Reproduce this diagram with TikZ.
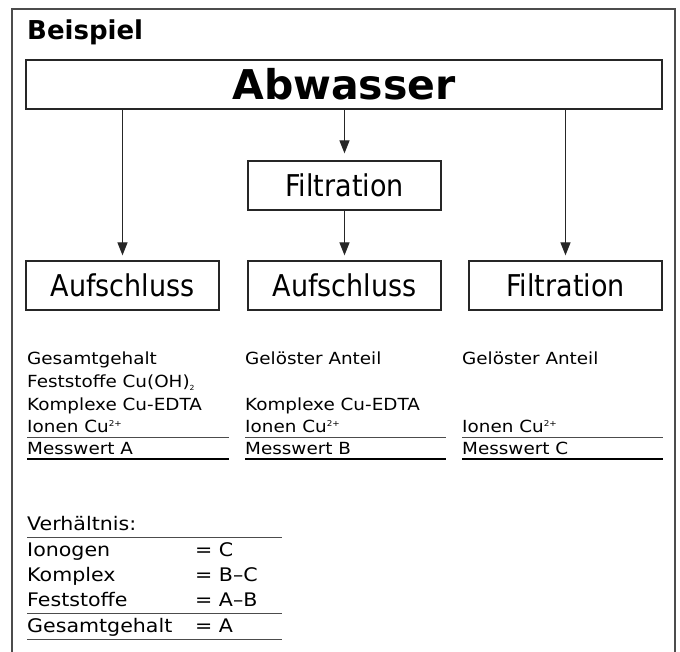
\documentclass[tikz,border=0pt]{standalone}
\usepackage{fontspec}
\setmainfont{DejaVu Sans}
\newfontfamily\vfont[FakeStretch=1.1]{DejaVu Sans}
\newfontfamily\cfont[FakeStretch=0.9]{DejaVu Sans}
\usetikzlibrary{arrows.meta}
\newcommand\supx[1]{\raisebox{5.5pt}{\fontsize{8}{8}\selectfont #1}}
\newcommand\subx[1]{\raisebox{-3pt}{\fontsize{7}{7}\selectfont #1}}
\begin{document}
\begin{tikzpicture}[x=1pt,y=-1pt,
  box/.style={draw=black!85, line width=1.3pt, inner sep=0pt, minimum width=193pt, minimum height=49pt, font=\cfont\fontsize{30}{30}\selectfont},
  arr/.style={draw=black!85, line width=1.3pt, -{Triangle[length=13pt,width=10pt]}, shorten >=5pt},
  txt/.style={anchor=base west, inner sep=0pt, font=\vfont\fontsize{16.7}{20}\selectfont},
  tab/.style={anchor=base west, inner sep=0pt, font=\vfont\fontsize{18.7}{22}\selectfont},
  thinline/.style={draw=black!70, line width=1pt},
  thickline/.style={draw=black, line width=2.5pt},
  frame/.style={draw=black!70, line width=1.5pt},
]
\useasboundingbox (0,0) rectangle (680,652);
\fill[white] (0,0) rectangle (680,652);
\draw[frame] (12,653) -- (12,9) -- (675,9) -- (675,653);

\node[anchor=base west, inner sep=0pt, font=\bfseries\fontsize{26}{26}\selectfont] (title) at (27,40) {Beispiel};

\node[box, minimum width=636pt, font=\bfseries\fontsize{41}{41}\selectfont] (abw) at (344,84.5) {Abwasser};
\node[box] (fm) at (344.5,185.5) {Filtration};
\node[box] (a1) at (122.5,285.5) {Aufschluss};
\node[box] (a2) at (344.5,285.5) {Aufschluss};
\node[box] (f3) at (565.5,285.5) {Filtration};

\draw[arr] (abw.south -| a1.north) -- (a1.north);
\draw[arr, shorten >=7pt] (abw.south -| fm.north) -- (fm.north);
\draw[arr] (fm.south) -- (a2.north);
\draw[arr] (abw.south -| f3.north) -- (f3.north);

% column 1
\node[txt] (c1a) at (27,364) {Gesamtgehalt};
\node[txt] (c1b) at (27,387) {Feststoffe Cu(OH)\subx{2}};
\node[txt] (c1c) at (27,410) {Komplexe Cu-EDTA};
\node[txt] (c1d) at (27,432) {Ionen Cu\supx{2+}};
\node[txt] (c1e) at (27,454) {Messwert A};
\draw[thinline] (27,437) -- (229,437);
\draw[thickline] (27,459) -- (229,459);

% column 2
\node[txt] (c2a) at (245,364) {Gelöster Anteil};
\node[txt] (c2c) at (245,410) {Komplexe Cu-EDTA};
\node[txt] (c2d) at (245,432) {Ionen Cu\supx{2+}};
\node[txt] (c2e) at (245,454) {Messwert B};
\draw[thinline] (245,437) -- (446,437);
\draw[thickline] (245,459) -- (446,459);

% column 3
\node[txt] (c3a) at (462,364) {Gelöster Anteil};
\node[txt] (c3d) at (462,432) {Ionen Cu\supx{2+}};
\node[txt] (c3e) at (462,454) {Messwert C};
\draw[thinline] (462,437) -- (663,437);
\draw[thickline] (462,459) -- (663,459);

% ratio table
\node[tab] (v0) at (27,530) {Verhältnis:};
\draw[thinline] (27,537) -- (282,537);
\node[tab] (v1) at (27,556) {Ionogen};
\node[tab] (w1) at (195,556) {= C};
\node[tab] (v2) at (27,581) {Komplex};
\node[tab] (w2) at (195,581) {= B–C};
\node[tab] (v3) at (27,606) {Feststoffe};
\node[tab] (w3) at (195,606) {= A–B};
\draw[thinline] (27,613) -- (282,613);
\node[tab] (v4) at (27,632) {Gesamtgehalt};
\node[tab] (w4) at (195,632) {= A};
\draw[thinline] (27,639) -- (282,639);
\end{tikzpicture}
\end{document}
